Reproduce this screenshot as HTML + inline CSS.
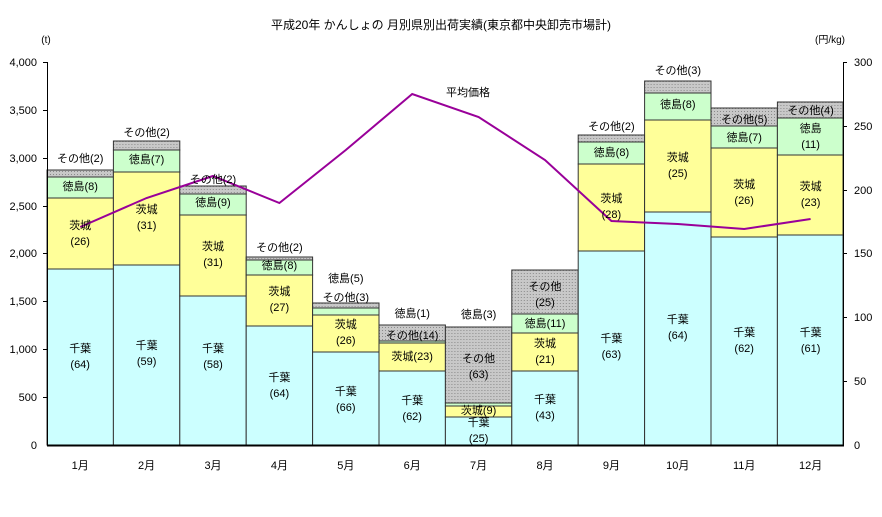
<!DOCTYPE html>
<html><head><meta charset="utf-8"><style>
body{margin:0;background:#fff;}
svg text{font-family:"Liberation Sans","Noto Sans CJK JP",sans-serif;font-size:11px;fill:#000;}
</style></head><body>
<svg width="882" height="512" xmlns="http://www.w3.org/2000/svg">
<defs>
<pattern id="dots" width="3" height="3" patternUnits="userSpaceOnUse">
<rect width="3" height="3" fill="#c8c8c8"/><rect width="1" height="1" fill="#8a8a8a"/>
</pattern>
</defs>
<text x="441" y="29" text-anchor="middle" style="font-size:12px">平成20年 かんしょの 月別県別出荷実績(東京都中央卸売市場計)</text>
<text x="46" y="43" text-anchor="middle" style="font-size:10px">(t)</text>
<text x="830" y="43" text-anchor="middle" style="font-size:10px">(円/kg)</text>
<g stroke="#333" stroke-width="1">
<!-- month 1..12 -->
<g transform="translate(47,0)">
<rect x="0" y="269" width="66.4" height="176" fill="#ccffff"/><rect x="0" y="198" width="66.4" height="71" fill="#ffff99"/><rect x="0" y="177" width="66.4" height="21" fill="#ccffcc"/><rect x="0" y="170" width="66.4" height="7" fill="url(#dots)"/></g>
<g transform="translate(113.4,0)">
<rect x="0" y="265" width="66.4" height="180" fill="#ccffff"/><rect x="0" y="172" width="66.4" height="93" fill="#ffff99"/><rect x="0" y="150" width="66.4" height="22" fill="#ccffcc"/><rect x="0" y="141" width="66.4" height="9" fill="url(#dots)"/></g>
<g transform="translate(179.8,0)">
<rect x="0" y="296" width="66.4" height="149" fill="#ccffff"/><rect x="0" y="215" width="66.4" height="81" fill="#ffff99"/><rect x="0" y="194" width="66.4" height="21" fill="#ccffcc"/><rect x="0" y="186" width="66.4" height="8" fill="url(#dots)"/></g>
<g transform="translate(246.2,0)">
<rect x="0" y="326" width="66.4" height="119" fill="#ccffff"/><rect x="0" y="275" width="66.4" height="51" fill="#ffff99"/><rect x="0" y="260" width="66.4" height="15" fill="#ccffcc"/><rect x="0" y="257" width="66.4" height="3" fill="url(#dots)"/></g>
<g transform="translate(312.6,0)">
<rect x="0" y="352" width="66.4" height="93" fill="#ccffff"/><rect x="0" y="315" width="66.4" height="37" fill="#ffff99"/><rect x="0" y="308" width="66.4" height="7" fill="#ccffcc"/><rect x="0" y="303" width="66.4" height="5" fill="url(#dots)"/></g>
<g transform="translate(379,0)">
<rect x="0" y="371" width="66.4" height="74" fill="#ccffff"/><rect x="0" y="343" width="66.4" height="28" fill="#ffff99"/><rect x="0" y="341" width="66.4" height="2" fill="#ccffcc"/><rect x="0" y="325" width="66.4" height="16" fill="url(#dots)"/></g>
<g transform="translate(445.4,0)">
<rect x="0" y="417" width="66.4" height="28" fill="#ccffff"/><rect x="0" y="406" width="66.4" height="11" fill="#ffff99"/><rect x="0" y="403" width="66.4" height="3" fill="#ccffcc"/><rect x="0" y="327" width="66.4" height="76" fill="url(#dots)"/></g>
<g transform="translate(511.8,0)">
<rect x="0" y="371" width="66.4" height="74" fill="#ccffff"/><rect x="0" y="333" width="66.4" height="38" fill="#ffff99"/><rect x="0" y="314" width="66.4" height="19" fill="#ccffcc"/><rect x="0" y="270" width="66.4" height="44" fill="url(#dots)"/></g>
<g transform="translate(578.2,0)">
<rect x="0" y="251" width="66.4" height="194" fill="#ccffff"/><rect x="0" y="164" width="66.4" height="87" fill="#ffff99"/><rect x="0" y="142" width="66.4" height="22" fill="#ccffcc"/><rect x="0" y="135" width="66.4" height="7" fill="url(#dots)"/></g>
<g transform="translate(644.6,0)">
<rect x="0" y="212" width="66.4" height="233" fill="#ccffff"/><rect x="0" y="120" width="66.4" height="92" fill="#ffff99"/><rect x="0" y="93" width="66.4" height="27" fill="#ccffcc"/><rect x="0" y="81" width="66.4" height="12" fill="url(#dots)"/></g>
<g transform="translate(711,0)">
<rect x="0" y="237" width="66.4" height="208" fill="#ccffff"/><rect x="0" y="148" width="66.4" height="89" fill="#ffff99"/><rect x="0" y="126" width="66.4" height="22" fill="#ccffcc"/><rect x="0" y="108" width="66.4" height="18" fill="url(#dots)"/></g>
<g transform="translate(777.4,0)">
<rect x="0" y="235" width="65.6" height="210" fill="#ccffff"/><rect x="0" y="155" width="65.6" height="80" fill="#ffff99"/><rect x="0" y="118" width="65.6" height="37" fill="#ccffcc"/><rect x="0" y="102" width="65.6" height="16" fill="url(#dots)"/></g>
</g>
<!-- axes -->
<g stroke="#000" stroke-width="1">
<line x1="47.5" y1="62" x2="47.5" y2="445"/>
<line x1="843.5" y1="62" x2="843.5" y2="445"/>
<line x1="47" y1="445.5" x2="844" y2="445.5" stroke-width="2"/>
<line x1="43" y1="62.5" x2="47" y2="62.5"/><line x1="43" y1="110.5" x2="47" y2="110.5"/><line x1="43" y1="158.5" x2="47" y2="158.5"/><line x1="43" y1="206.5" x2="47" y2="206.5"/><line x1="43" y1="253.5" x2="47" y2="253.5"/><line x1="43" y1="301.5" x2="47" y2="301.5"/><line x1="43" y1="349.5" x2="47" y2="349.5"/><line x1="43" y1="397.5" x2="47" y2="397.5"/>
<line x1="843" y1="62.5" x2="847" y2="62.5"/><line x1="843" y1="126.5" x2="847" y2="126.5"/><line x1="843" y1="190.5" x2="847" y2="190.5"/><line x1="843" y1="253.5" x2="847" y2="253.5"/><line x1="843" y1="317.5" x2="847" y2="317.5"/><line x1="843" y1="381.5" x2="847" y2="381.5"/>
</g>
<g text-anchor="end" style="font-size:10.5px">
<text x="37" y="66">4,000</text><text x="37" y="114">3,500</text><text x="37" y="162">3,000</text><text x="37" y="210">2,500</text><text x="37" y="257">2,000</text><text x="37" y="305">1,500</text><text x="37" y="353">1,000</text><text x="37" y="401">500</text><text x="37" y="449">0</text>
</g>
<g text-anchor="start" style="font-size:10.5px">
<text x="854" y="66">300</text><text x="854" y="130">250</text><text x="854" y="194">200</text><text x="854" y="257">150</text><text x="854" y="321">100</text><text x="854" y="385">50</text><text x="854" y="449">0</text>
</g>
<g text-anchor="middle">
<text x="80.2" y="469">1月</text><text x="146.6" y="469">2月</text><text x="213" y="469">3月</text><text x="279.4" y="469">4月</text><text x="345.8" y="469">5月</text><text x="412.2" y="469">6月</text><text x="478.6" y="469">7月</text><text x="545" y="469">8月</text><text x="611.4" y="469">9月</text><text x="677.8" y="469">10月</text><text x="744.2" y="469">11月</text><text x="810.6" y="469">12月</text>
</g>
<polyline fill="none" stroke="#990099" stroke-width="2" points="80.2,227 146.6,198 213,176 279.4,203 345.8,150 412.2,94 478.6,117 545,160 611.4,221 677.8,224 744.2,229 810.6,219"/>
<text x="468" y="96" text-anchor="middle">平均価格</text>
<g text-anchor="middle">
<text x="80.2" y="162">その他(2)</text><text x="80.2" y="190">徳島(8)</text><text x="80.2" y="229">茨城</text><text x="80.2" y="245">(26)</text><text x="80.2" y="352">千葉</text><text x="80.2" y="368">(64)</text>
<text x="146.6" y="136">その他(2)</text><text x="146.6" y="163">徳島(7)</text><text x="146.6" y="213">茨城</text><text x="146.6" y="229">(31)</text><text x="146.6" y="349">千葉</text><text x="146.6" y="365">(59)</text>
<text x="213" y="183">その他(2)</text><text x="213" y="206">徳島(9)</text><text x="213" y="250">茨城</text><text x="213" y="266">(31)</text><text x="213" y="352">千葉</text><text x="213" y="368">(58)</text>
<text x="279.4" y="251">その他(2)</text><text x="279.4" y="269">徳島(8)</text><text x="279.4" y="295">茨城</text><text x="279.4" y="311">(27)</text><text x="279.4" y="381">千葉</text><text x="279.4" y="397">(64)</text>
<text x="345.8" y="282">徳島(5)</text><text x="345.8" y="301">その他(3)</text><text x="345.8" y="328">茨城</text><text x="345.8" y="344">(26)</text><text x="345.8" y="395">千葉</text><text x="345.8" y="411">(66)</text>
<text x="412.2" y="317">徳島(1)</text><text x="412.2" y="339">その他(14)</text><text x="412.2" y="360">茨城(23)</text><text x="412.2" y="404">千葉</text><text x="412.2" y="420">(62)</text>
<text x="478.6" y="318">徳島(3)</text><text x="478.6" y="362">その他</text><text x="478.6" y="378">(63)</text><text x="478.6" y="414">茨城(9)</text><text x="478.6" y="426">千葉</text><text x="478.6" y="442">(25)</text>
<text x="545" y="290">その他</text><text x="545" y="306">(25)</text><text x="545" y="327">徳島(11)</text><text x="545" y="347">茨城</text><text x="545" y="363">(21)</text><text x="545" y="403">千葉</text><text x="545" y="419">(43)</text>
<text x="611.4" y="130">その他(2)</text><text x="611.4" y="156">徳島(8)</text><text x="611.4" y="202">茨城</text><text x="611.4" y="218">(28)</text><text x="611.4" y="342">千葉</text><text x="611.4" y="358">(63)</text>
<text x="677.8" y="74">その他(3)</text><text x="677.8" y="108">徳島(8)</text><text x="677.8" y="161">茨城</text><text x="677.8" y="177">(25)</text><text x="677.8" y="323">千葉</text><text x="677.8" y="339">(64)</text>
<text x="744.2" y="123">その他(5)</text><text x="744.2" y="141">徳島(7)</text><text x="744.2" y="188">茨城</text><text x="744.2" y="204">(26)</text><text x="744.2" y="336">千葉</text><text x="744.2" y="352">(62)</text>
<text x="810.6" y="114">その他(4)</text><text x="810.6" y="132">徳島</text><text x="810.6" y="148">(11)</text><text x="810.6" y="190">茨城</text><text x="810.6" y="206">(23)</text><text x="810.6" y="336">千葉</text><text x="810.6" y="352">(61)</text>
</g>
</svg>
</body></html>
